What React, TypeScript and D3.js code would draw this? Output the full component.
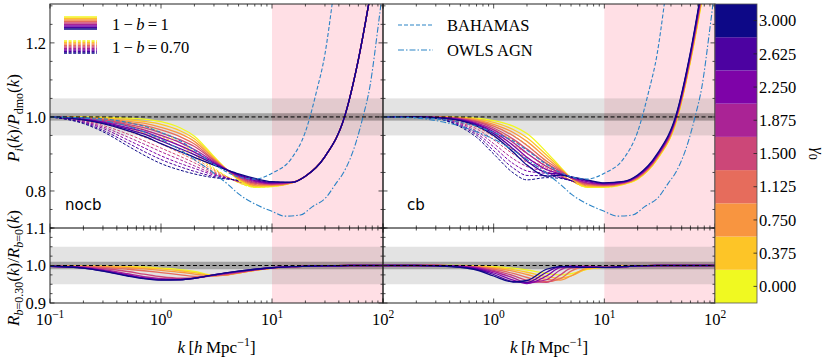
import * as React from 'react';
import * as d3 from 'd3';

// k grids [h/Mpc]
const kModel = [0.1, 0.2, 0.3, 0.5, 0.7, 1, 1.5, 2, 3, 4, 5, 7, 10, 15, 20, 30, 45, 60, 80];
const kRatio = [0.1, 0.2, 0.3, 0.5, 0.7, 1, 1.5, 2, 3, 4, 5, 7, 10, 15, 20, 30, 50, 100];
const gammaValues = [0, 0.375, 0.75, 1.125, 1.5, 1.875, 2.25, 2.625, 3];

// P_i/P_dmo, nocb, 1-b = 1 (one row per gamma)
const nocbB1 = [
  [1.000, 1.000, 0.999, 0.997, 0.994, 0.987, 0.970, 0.948, 0.893, 0.855, 0.830, 0.810, 0.812, 0.822, 0.840, 0.893, 1.000, 1.155, 1.360],
  [1.000, 0.999, 0.997, 0.993, 0.988, 0.980, 0.962, 0.941, 0.890, 0.855, 0.832, 0.813, 0.814, 0.822, 0.840, 0.893, 1.000, 1.155, 1.360],
  [1.000, 0.998, 0.995, 0.988, 0.983, 0.972, 0.954, 0.934, 0.887, 0.855, 0.834, 0.816, 0.815, 0.822, 0.840, 0.893, 1.000, 1.155, 1.360],
  [1.000, 0.997, 0.993, 0.984, 0.977, 0.965, 0.946, 0.927, 0.884, 0.855, 0.836, 0.819, 0.817, 0.822, 0.840, 0.893, 1.000, 1.155, 1.360],
  [1.000, 0.996, 0.991, 0.980, 0.971, 0.957, 0.938, 0.920, 0.882, 0.855, 0.838, 0.822, 0.818, 0.823, 0.840, 0.893, 1.000, 1.155, 1.360],
  [1.000, 0.995, 0.988, 0.976, 0.965, 0.950, 0.930, 0.912, 0.879, 0.856, 0.840, 0.825, 0.820, 0.823, 0.840, 0.893, 1.000, 1.155, 1.360],
  [1.000, 0.994, 0.986, 0.971, 0.960, 0.943, 0.922, 0.905, 0.876, 0.856, 0.842, 0.828, 0.821, 0.823, 0.840, 0.893, 1.000, 1.155, 1.360],
  [1.000, 0.993, 0.984, 0.967, 0.954, 0.935, 0.914, 0.898, 0.873, 0.856, 0.844, 0.831, 0.823, 0.823, 0.840, 0.893, 1.000, 1.155, 1.360],
  [1.000, 0.992, 0.982, 0.963, 0.948, 0.928, 0.906, 0.891, 0.870, 0.856, 0.846, 0.834, 0.825, 0.823, 0.840, 0.893, 1.000, 1.155, 1.360],
];

// nocb, 1-b = 0.70
const nocbB070 = [
  [1.000, 0.998, 0.995, 0.986, 0.976, 0.958, 0.930, 0.905, 0.862, 0.838, 0.822, 0.810, 0.812, 0.822, 0.840, 0.893, 1.000, 1.155, 1.360],
  [1.000, 0.996, 0.991, 0.978, 0.966, 0.948, 0.921, 0.898, 0.859, 0.837, 0.823, 0.812, 0.814, 0.822, 0.840, 0.893, 1.000, 1.155, 1.360],
  [1.000, 0.994, 0.986, 0.970, 0.956, 0.937, 0.911, 0.890, 0.856, 0.837, 0.824, 0.814, 0.815, 0.822, 0.840, 0.893, 1.000, 1.155, 1.360],
  [1.000, 0.992, 0.982, 0.962, 0.946, 0.927, 0.902, 0.883, 0.852, 0.836, 0.825, 0.816, 0.817, 0.822, 0.840, 0.893, 1.000, 1.155, 1.360],
  [1.000, 0.990, 0.977, 0.954, 0.936, 0.916, 0.893, 0.876, 0.849, 0.835, 0.826, 0.818, 0.818, 0.823, 0.840, 0.893, 1.000, 1.155, 1.360],
  [1.000, 0.988, 0.973, 0.946, 0.927, 0.906, 0.884, 0.868, 0.846, 0.835, 0.826, 0.820, 0.820, 0.823, 0.840, 0.893, 1.000, 1.155, 1.360],
  [1.000, 0.986, 0.969, 0.938, 0.917, 0.895, 0.874, 0.861, 0.843, 0.834, 0.827, 0.822, 0.821, 0.823, 0.840, 0.893, 1.000, 1.155, 1.360],
  [1.000, 0.984, 0.964, 0.930, 0.907, 0.885, 0.865, 0.853, 0.839, 0.833, 0.828, 0.824, 0.823, 0.823, 0.840, 0.893, 1.000, 1.155, 1.360],
  [1.000, 0.982, 0.960, 0.922, 0.897, 0.874, 0.856, 0.846, 0.836, 0.832, 0.829, 0.826, 0.824, 0.823, 0.840, 0.893, 1.000, 1.155, 1.360],
];

// cb, 1-b = 1
const cbB1 = [
  [1.000, 1.000, 1.000, 0.999, 0.997, 0.990, 0.975, 0.955, 0.905, 0.865, 0.835, 0.810, 0.810, 0.818, 0.832, 0.885, 0.990, 1.150, 1.350],
  [1.000, 1.000, 1.000, 0.998, 0.994, 0.985, 0.966, 0.944, 0.897, 0.862, 0.835, 0.812, 0.812, 0.819, 0.833, 0.887, 0.992, 1.153, 1.355],
  [1.000, 1.000, 1.000, 0.997, 0.992, 0.980, 0.958, 0.934, 0.889, 0.859, 0.835, 0.815, 0.813, 0.820, 0.835, 0.889, 0.995, 1.156, 1.360],
  [1.000, 1.000, 0.999, 0.996, 0.989, 0.975, 0.949, 0.923, 0.881, 0.856, 0.835, 0.818, 0.815, 0.821, 0.836, 0.891, 0.997, 1.159, 1.365],
  [1.000, 1.000, 0.999, 0.995, 0.987, 0.970, 0.940, 0.913, 0.874, 0.853, 0.836, 0.820, 0.816, 0.822, 0.838, 0.893, 1.000, 1.163, 1.370],
  [1.000, 1.000, 0.999, 0.994, 0.984, 0.965, 0.931, 0.902, 0.866, 0.849, 0.836, 0.822, 0.818, 0.823, 0.839, 0.894, 1.002, 1.166, 1.375],
  [1.000, 1.000, 0.999, 0.993, 0.981, 0.960, 0.923, 0.891, 0.858, 0.846, 0.837, 0.825, 0.819, 0.824, 0.840, 0.896, 1.005, 1.169, 1.380],
  [1.000, 1.000, 0.998, 0.991, 0.979, 0.955, 0.914, 0.881, 0.849, 0.845, 0.838, 0.828, 0.821, 0.825, 0.842, 0.898, 1.007, 1.172, 1.385],
  [1.000, 1.000, 0.998, 0.990, 0.976, 0.950, 0.905, 0.870, 0.840, 0.843, 0.838, 0.830, 0.822, 0.826, 0.843, 0.900, 1.010, 1.175, 1.390],
];

// cb, 1-b = 0.70
const cbB070 = [
  [1.000, 1.000, 0.999, 0.996, 0.990, 0.975, 0.950, 0.925, 0.878, 0.848, 0.828, 0.810, 0.810, 0.818, 0.832, 0.885, 0.990, 1.150, 1.350],
  [1.000, 1.000, 0.999, 0.993, 0.984, 0.966, 0.937, 0.913, 0.873, 0.846, 0.828, 0.811, 0.811, 0.819, 0.833, 0.887, 0.992, 1.153, 1.354],
  [1.000, 1.000, 0.998, 0.990, 0.979, 0.956, 0.925, 0.901, 0.868, 0.845, 0.828, 0.812, 0.812, 0.820, 0.834, 0.888, 0.994, 1.155, 1.359],
  [1.000, 1.000, 0.998, 0.987, 0.973, 0.947, 0.912, 0.889, 0.862, 0.843, 0.828, 0.814, 0.813, 0.820, 0.835, 0.890, 0.996, 1.158, 1.363],
  [1.000, 1.000, 0.998, 0.984, 0.968, 0.938, 0.900, 0.878, 0.857, 0.841, 0.828, 0.815, 0.814, 0.821, 0.836, 0.891, 0.998, 1.160, 1.368],
  [1.000, 0.999, 0.997, 0.982, 0.962, 0.928, 0.887, 0.866, 0.852, 0.839, 0.828, 0.816, 0.815, 0.822, 0.837, 0.893, 1.000, 1.163, 1.372],
  [1.000, 0.999, 0.997, 0.979, 0.956, 0.919, 0.874, 0.854, 0.847, 0.838, 0.828, 0.817, 0.816, 0.823, 0.838, 0.894, 1.003, 1.165, 1.376],
  [1.000, 0.999, 0.996, 0.976, 0.951, 0.909, 0.862, 0.842, 0.841, 0.836, 0.828, 0.819, 0.817, 0.823, 0.840, 0.896, 1.005, 1.168, 1.381],
  [1.000, 0.999, 0.996, 0.973, 0.945, 0.900, 0.849, 0.830, 0.836, 0.834, 0.828, 0.820, 0.818, 0.824, 0.841, 0.897, 1.007, 1.170, 1.385],
];

// R_{b=0.30}/R_{b=0}
const nocbRatio = [
  [0.998, 0.998, 0.998, 0.997, 0.996, 0.993, 0.989, 0.984, 0.974, 0.976, 0.980, 0.987, 0.993, 0.997, 0.998, 0.999, 1.000, 1.000],
  [0.998, 0.998, 0.997, 0.996, 0.994, 0.991, 0.986, 0.981, 0.973, 0.975, 0.980, 0.987, 0.993, 0.997, 0.998, 0.999, 1.000, 1.000],
  [0.998, 0.998, 0.997, 0.994, 0.991, 0.987, 0.982, 0.977, 0.972, 0.975, 0.980, 0.987, 0.993, 0.997, 0.998, 0.999, 1.000, 1.000],
  [0.998, 0.997, 0.995, 0.990, 0.986, 0.981, 0.975, 0.971, 0.973, 0.976, 0.981, 0.988, 0.993, 0.997, 0.998, 0.999, 1.000, 1.000],
  [0.998, 0.996, 0.992, 0.984, 0.977, 0.970, 0.966, 0.967, 0.974, 0.978, 0.982, 0.988, 0.993, 0.997, 0.998, 0.999, 1.000, 1.000],
  [0.998, 0.995, 0.989, 0.978, 0.970, 0.965, 0.963, 0.966, 0.974, 0.979, 0.983, 0.989, 0.994, 0.997, 0.998, 0.999, 1.000, 1.000],
  [0.998, 0.994, 0.987, 0.975, 0.967, 0.963, 0.963, 0.966, 0.975, 0.980, 0.984, 0.989, 0.994, 0.997, 0.998, 0.999, 1.000, 1.000],
  [0.998, 0.993, 0.986, 0.973, 0.966, 0.962, 0.962, 0.966, 0.975, 0.981, 0.985, 0.990, 0.994, 0.997, 0.998, 0.999, 1.000, 1.000],
  [0.998, 0.993, 0.985, 0.972, 0.965, 0.961, 0.962, 0.966, 0.975, 0.981, 0.985, 0.990, 0.994, 0.997, 0.998, 0.999, 1.000, 1.000],
];

const cbRatio = [
  [1.000, 1.000, 1.000, 1.000, 0.999, 0.997, 0.993, 0.988, 0.979, 0.975, 0.978, 0.990, 0.996, 0.998, 0.999, 1.000, 1.000, 1.000],
  [1.000, 1.000, 1.000, 0.999, 0.998, 0.995, 0.989, 0.982, 0.970, 0.966, 0.972, 0.991, 0.996, 0.998, 0.999, 1.000, 1.000, 1.000],
  [1.000, 1.000, 1.000, 0.999, 0.997, 0.993, 0.985, 0.976, 0.963, 0.961, 0.972, 0.993, 0.995, 0.998, 0.999, 1.000, 1.000, 1.000],
  [1.000, 1.000, 1.000, 0.999, 0.996, 0.990, 0.979, 0.968, 0.957, 0.965, 0.985, 0.998, 0.995, 0.997, 0.999, 1.000, 1.000, 1.000],
  [1.000, 1.000, 1.000, 0.998, 0.995, 0.987, 0.973, 0.960, 0.955, 0.975, 0.993, 0.998, 0.995, 0.997, 0.999, 1.000, 1.000, 1.000],
  [1.000, 1.000, 1.000, 0.998, 0.994, 0.984, 0.967, 0.954, 0.962, 0.988, 0.998, 0.997, 0.995, 0.997, 0.999, 1.000, 1.000, 1.000],
  [1.000, 1.000, 1.000, 0.997, 0.992, 0.980, 0.961, 0.952, 0.972, 0.995, 0.998, 0.996, 0.995, 0.997, 0.999, 1.000, 1.000, 1.000],
  [1.000, 1.000, 0.999, 0.996, 0.990, 0.976, 0.957, 0.955, 0.982, 0.997, 0.997, 0.995, 0.995, 0.997, 0.999, 1.000, 1.000, 1.000],
  [1.000, 1.000, 0.999, 0.995, 0.988, 0.972, 0.956, 0.960, 0.990, 0.997, 0.996, 0.995, 0.995, 0.997, 0.999, 1.000, 1.000, 1.000],
];

// hydro simulations
const kBahamas = [0.1, 0.2, 0.3, 0.5, 0.7, 1, 1.5, 2, 3, 4, 5, 7, 10, 15, 20, 25, 30, 35];
const bahamas = [1.000, 0.998, 0.995, 0.985, 0.975, 0.958, 0.935, 0.910, 0.872, 0.850, 0.838, 0.832, 0.848, 0.888, 0.960, 1.065, 1.170, 1.310];
const kOwls = [0.1, 0.2, 0.3, 0.5, 0.7, 1, 1.5, 2, 3, 4, 5, 7, 10, 13, 18, 23, 31, 38, 44, 58, 66, 76, 90, 100];
const owls = [1.000, 0.997, 0.990, 0.975, 0.960, 0.940, 0.910, 0.885, 0.848, 0.818, 0.792, 0.765, 0.745, 0.732, 0.735, 0.757, 0.784, 0.822, 0.849, 0.938, 1.000, 1.080, 1.240, 1.350];

const xMajor = [0.1, 1, 10, 100];
const xMajorExp = ['−1', '0', '1', '2'];
const topYTicks = [0.8, 1.0, 1.2];
const bottomYTicks = [0.9, 1.0, 1.1];

const W = 831;
const H = 361;
const TOP = [4, 228];
const BOT = [228, 303];
const SERIF = { fontFamily: '"Liberation Serif", "Times New Roman", serif' };
const SANS = { fontFamily: '"DejaVu Sans", sans-serif' };
const BLUE = '#2b83c6';
const TS = '\u2009';

const gammaColor = d3.scaleSequential(d3.interpolatePlasma).domain([3, 0]);

const xMinor = [0.1, 1, 10].flatMap(d => [2, 3, 4, 5, 6, 7, 8, 9].map(m => d * m));

function Ticks({ x, y, yMaj, yMin }) {
  const [xa, xb] = x.range();
  const [yb, ya] = y.range();
  const out = [];
  const seg = (x1, y1, x2, y2, key) =>
    out.push(<line key={key} x1={x1} y1={y1} x2={x2} y2={y2} stroke="#222" strokeWidth={0.8} />);
  xMajor.forEach((v, i) => {
    const p = x(v);
    seg(p, yb, p, yb - 4.5, 'xb' + i);
    seg(p, ya, p, ya + 4.5, 'xt' + i);
  });
  xMinor.forEach((v, i) => {
    const p = x(v);
    seg(p, yb, p, yb - 2.5, 'mb' + i);
    seg(p, ya, p, ya + 2.5, 'mt' + i);
  });
  yMaj.forEach((v, i) => {
    const p = y(v);
    seg(xa, p, xa + 4.5, p, 'yl' + i);
    seg(xb, p, xb - 4.5, p, 'yr' + i);
  });
  yMin.forEach((v, i) => {
    const p = y(v);
    seg(xa, p, xa + 2.5, p, 'ml' + i);
    seg(xb, p, xb - 2.5, p, 'mr' + i);
  });
  return <g>{out}</g>;
}

function Panel({ idx, px, solid, dashed, ratio, tag }) {
  const x = d3.scaleLog().domain([0.1, 100]).range(px);
  const yT = d3.scaleLinear().domain([0.7, 1.305]).range([TOP[1], TOP[0]]);
  const yB = d3.scaleLinear().domain([0.9, 1.1]).range([BOT[1], BOT[0]]);

  const lineModel = d3.line<number>().x((_, i) => x(kModel[i])).y(d => yT(d)).curve(d3.curveMonotoneX);
  const lineRatio = d3.line<number>().x((_, i) => x(kRatio[i])).y(d => yB(d)).curve(d3.curveMonotoneX);
  const lineBah = d3.line<number>().x((_, i) => x(kBahamas[i])).y(d => yT(d)).curve(d3.curveMonotoneX);
  const lineOwl = d3.line<number>().x((_, i) => x(kOwls[i])).y(d => yT(d)).curve(d3.curveMonotoneX);

  const topMinor = d3.range(0.7, 1.31, 0.05).map(v => +v.toFixed(2)).filter(v => !topYTicks.includes(v));
  const botMinor = d3.range(0.9, 1.101, 0.025).map(v => +v.toFixed(3)).filter(v => !bottomYTicks.includes(v));

  const pw = px[1] - px[0];
  const shade = (y, y0, y1) => (
    <g>
      <rect x={x(10)} y={y0} width={x(100) - x(10)} height={y1 - y0} fill="#ffc0cb" opacity={0.5} />
      <rect x={px[0]} y={y(1.05)} width={pw} height={y(0.95) - y(1.05)} fill="#808080" opacity={0.22} />
      <rect x={px[0]} y={y(1.01)} width={pw} height={y(0.99) - y(1.01)} fill="#000" opacity={0.28} />
    </g>
  );

  return (
    <g>
      <defs>
        <clipPath id={'ct' + idx}><rect x={px[0]} y={TOP[0]} width={pw} height={TOP[1] - TOP[0]} /></clipPath>
        <clipPath id={'cbm' + idx}><rect x={px[0]} y={BOT[0]} width={pw} height={BOT[1] - BOT[0]} /></clipPath>
      </defs>
      {shade(yT, TOP[0], TOP[1])}
      {shade(yB, BOT[0], BOT[1])}
      <g clipPath={`url(#ct${idx})`} fill="none">
        {dashed.map((row, i) => (
          <path key={'d' + i} d={lineModel(row)} stroke={gammaColor(gammaValues[i])} strokeWidth={1} strokeDasharray="3 1.6" />
        ))}
        {solid.map((row, i) => (
          <path key={'s' + i} d={lineModel(row)} stroke={gammaColor(gammaValues[i])} strokeWidth={1.3} />
        ))}
        <path d={lineBah(bahamas)} stroke={BLUE} strokeWidth={1.1} strokeDasharray="4 2" />
        <path d={lineOwl(owls)} stroke={BLUE} strokeWidth={1.1} strokeDasharray="6 2 1.5 2" />
        <line x1={px[0]} x2={px[1]} y1={yT(1)} y2={yT(1)} stroke="#000" strokeWidth={1} strokeDasharray="4 2.5" />
      </g>
      <g clipPath={`url(#cbm${idx})`} fill="none">
        {ratio.map((row, i) => (
          <path key={'r' + i} d={lineRatio(row)} stroke={gammaColor(gammaValues[i])} strokeWidth={1.3} />
        ))}
        <line x1={px[0]} x2={px[1]} y1={yB(1)} y2={yB(1)} stroke="#000" strokeWidth={1} strokeDasharray="4 2.5" />
      </g>
      <Ticks x={x} y={yT} yMaj={topYTicks} yMin={topMinor} />
      <Ticks x={x} y={yB} yMaj={bottomYTicks} yMin={botMinor} />
      <rect x={px[0]} y={TOP[0]} width={pw} height={BOT[1] - TOP[0]} fill="none" stroke="#222" strokeWidth={1} />
      <line x1={px[0]} x2={px[1]} y1={TOP[1]} y2={TOP[1]} stroke="#000" strokeWidth={1} />
      <text x={px[0] + (idx === 0 ? 15 : 24)} y={210} style={SANS} fontSize={15}>{tag}</text>
      <g style={SERIF} fontSize={16.5} fill="#000">
        {xMajor.map((v, i) =>
          idx === 1 && i === 0 ? null : (
            <text key={'xl' + i} x={x(v)} y={325} textAnchor="middle">
              10<tspan fontSize={11.5} dy={-7}>{xMajorExp[i]}</tspan>
            </text>
          )
        )}
        {idx === 0 && topYTicks.map(v => (
          <text key={'yt' + v} x={px[0] - 4} y={yT(v)} dy="0.35em" textAnchor="end">{v.toFixed(1)}</text>
        ))}
        {idx === 0 && bottomYTicks.map(v => (
          <text key={'yb' + v} x={px[0] - 4} y={yB(v)} dy="0.35em" textAnchor="end">{v.toFixed(1)}</text>
        ))}
        <text x={(px[0] + px[1]) / 2} y={353} textAnchor="middle" fontSize={17}>
          <tspan fontStyle="italic">k</tspan>{TS}[<tspan fontStyle="italic">h</tspan>{TS}Mpc<tspan fontSize={12} dy={-7}>−1</tspan><tspan dy={7}>]</tspan>
        </text>
      </g>
    </g>
  );
}

function ModelLegend() {
  const x0 = 64;
  const x1 = 97;
  const rows = gammaValues.map((g, i) => ({ g, i }));
  return (
    <g>
      {rows.map(({ g, i }) => (
        <line key={'ls' + i} x1={x0} x2={x1} y1={17 + i * 1.5} y2={17 + i * 1.5} stroke={gammaColor(g)} strokeWidth={1.6} />
      ))}
      {rows.map(({ g, i }) => (
        <line key={'ld' + i} x1={x0} x2={x1} y1={41 + i * 1.5} y2={41 + i * 1.5} stroke={gammaColor(g)} strokeWidth={1.6} strokeDasharray="3 1.6" />
      ))}
      <g style={SERIF} fontSize={16.5}>
        <text x={112} y={30}>1{TS}−{TS}<tspan fontStyle="italic">b</tspan>{TS}={TS}1</text>
        <text x={112} y={53}>1{TS}−{TS}<tspan fontStyle="italic">b</tspan>{TS}={TS}0.70</text>
      </g>
    </g>
  );
}

function SimLegend() {
  return (
    <g>
      <line x1={398} x2={433} y1={25} y2={25} stroke={BLUE} strokeWidth={1.1} strokeDasharray="4 2" />
      <line x1={398} x2={433} y1={50} y2={50} stroke={BLUE} strokeWidth={1.1} strokeDasharray="6 2 1.5 2" />
      <g style={SERIF} fontSize={16.5}>
        <text x={447} y={31}>BAHAMAS</text>
        <text x={447} y={56}>OWLS AGN</text>
      </g>
    </g>
  );
}

function ColorBar() {
  const x0 = 715;
  const x1 = 757;
  const half = 0.1875;
  const cy = d3.scaleLinear().domain([-half, 3 + half]).range([BOT[1], TOP[0]]);
  return (
    <g>
      {gammaValues.map(g => (
        <rect key={'c' + g} x={x0} y={cy(g + half)} width={x1 - x0} height={cy(g - half) - cy(g + half)} fill={gammaColor(g)} />
      ))}
      <rect x={x0} y={TOP[0]} width={x1 - x0} height={BOT[1] - TOP[0]} fill="none" stroke="#555" strokeWidth={0.8} />
      {gammaValues.map(g => (
        <line key={'t' + g} x1={x1} x2={x1 - 3.5} y1={cy(g)} y2={cy(g)} stroke="#222" strokeWidth={0.8} />
      ))}
      <g style={SERIF} fontSize={16.5}>
        {gammaValues.map(g => (
          <text key={'l' + g} x={x1 + 2} y={cy(g)} dy="0.35em">{g.toFixed(3)}</text>
        ))}
        <text transform={`translate(813,${(TOP[0] + BOT[1]) / 2}) rotate(90)`} textAnchor="middle" fontSize={17}>
          <tspan fontStyle="italic">γ</tspan><tspan fontSize={12} dy={4}>0</tspan>
        </text>
      </g>
    </g>
  );
}

export default function App() {
  return (
    <svg width={W} height={H} style={{ position: 'absolute', left: 0, top: 0, background: '#fff' }}>
      <rect width={W} height={H} fill="#fff" />
      <Panel idx={0} px={[50, 383]} solid={nocbB1} dashed={nocbB070} ratio={nocbRatio} tag="nocb" />
      <Panel idx={1} px={[383, 715]} solid={cbB1} dashed={cbB070} ratio={cbRatio} tag="cb" />
      <ModelLegend />
      <SimLegend />
      <ColorBar />
      <g style={SERIF} fontSize={17}>
        <text transform="translate(19,118) rotate(-90)" textAnchor="middle">
          <tspan fontStyle="italic">P</tspan><tspan fontStyle="italic" fontSize={12} dy={4}>i</tspan><tspan dy={-4}>(</tspan><tspan fontStyle="italic">k</tspan>)/<tspan fontStyle="italic">P</tspan><tspan fontSize={12} dy={4}>dmo</tspan><tspan dy={-4}>(</tspan><tspan fontStyle="italic">k</tspan>)
        </text>
        <text transform="translate(19,268) rotate(-90)" textAnchor="middle">
          <tspan fontStyle="italic">R</tspan><tspan fontSize={12} dy={4}><tspan fontStyle="italic">b</tspan>=0.30</tspan><tspan dy={-4}>(</tspan><tspan fontStyle="italic">k</tspan>)/<tspan fontStyle="italic">R</tspan><tspan fontSize={12} dy={4}><tspan fontStyle="italic">b</tspan>=0</tspan><tspan dy={-4}>(</tspan><tspan fontStyle="italic">k</tspan>)
        </text>
      </g>
    </svg>
  );
}
